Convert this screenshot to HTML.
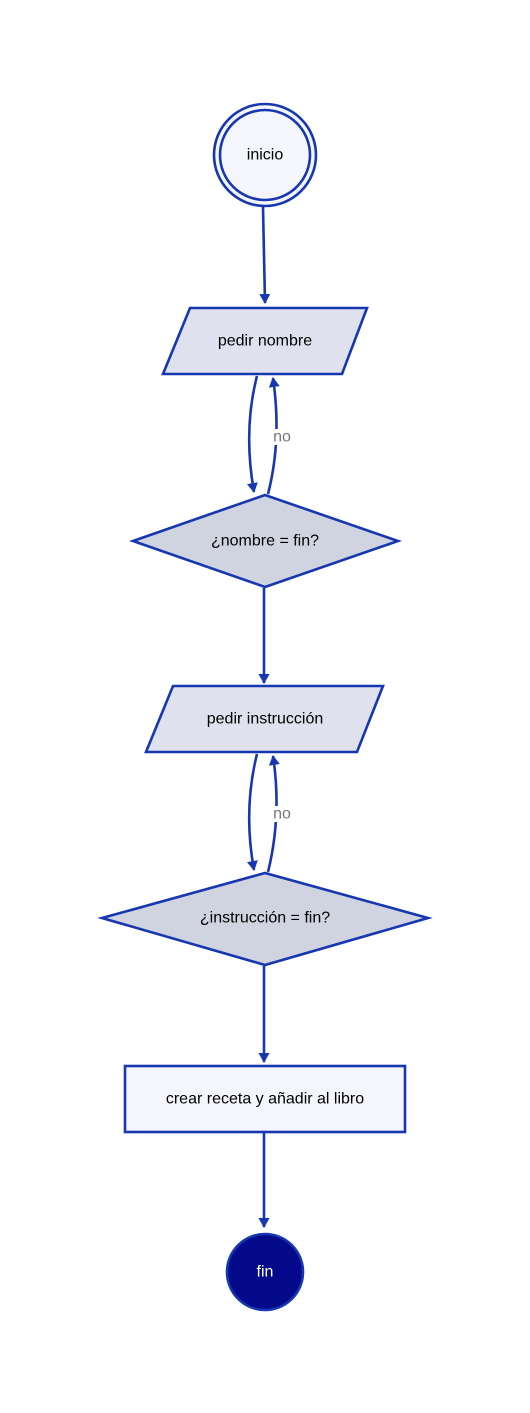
<!DOCTYPE html>
<html><head><meta charset="utf-8"><style>
html,body{margin:0;padding:0;background:#fff;width:530px;height:1413px;overflow:hidden}
text{font-family:"Liberation Sans",sans-serif;font-size:16px;text-anchor:middle;dominant-baseline:central}
</style></head><body>
<svg width="530" height="1413" viewBox="0 0 530 1413" xmlns="http://www.w3.org/2000/svg">
<defs><marker id="a" markerWidth="12" markerHeight="12" refX="9" refY="5.5" orient="auto" markerUnits="userSpaceOnUse"><path d="M0,0 L10,5.5 L0,11 Z" fill="#1637b0"/></marker></defs>
<g stroke="#1637b0" stroke-width="2.6" fill="none">
<circle cx="265" cy="155" r="51" fill="#f5f6fb"/>
<circle cx="265" cy="155" r="45"/>
<path d="M263,207 L265,303" marker-end="url(#a)"/>
<polygon points="190,308 367,308 342,374 163,374" fill="#dfe1ee"/>
<path d="M257,376 Q243,430 254,492" marker-end="url(#a)"/>
<path d="M268,494 Q282,440 273,378" marker-end="url(#a)"/>
<polygon points="133,541 265,495 398,541 265,587" fill="#d0d3e0"/>
<path d="M264,588 L264,683" marker-end="url(#a)"/>
<polygon points="173,686 383,686 357,752 146,752" fill="#dfe1ee"/>
<path d="M257,754 Q243,810 254,870" marker-end="url(#a)"/>
<path d="M268,872 Q282,815 273,756" marker-end="url(#a)"/>
<polygon points="102,918 265,873 428,918 265,965" fill="#d0d3e0"/>
<path d="M264,966 L264,1062" marker-end="url(#a)"/>
<rect x="125" y="1066" width="280" height="66" fill="#f5f6fb"/>
<path d="M264,1133 L264,1227" marker-end="url(#a)"/>
<circle cx="265" cy="1272" r="38" fill="#050a8a"/>
</g>
<rect x="272" y="429" width="20" height="16" fill="#fff"/>
<rect x="272" y="806" width="20" height="16" fill="#fff"/>
<text x="282" y="437" fill="#777">no</text>
<text x="282" y="814" fill="#777">no</text>
<text x="265" y="155">inicio</text>
<text x="265" y="341">pedir nombre</text>
<text x="265" y="541">¿nombre = fin?</text>
<text x="265" y="719">pedir instrucción</text>
<text x="265" y="918">¿instrucción = fin?</text>
<text x="265" y="1099">crear receta y añadir al libro</text>
<text x="265" y="1272" fill="#fff">fin</text>
</svg>
</body></html>
